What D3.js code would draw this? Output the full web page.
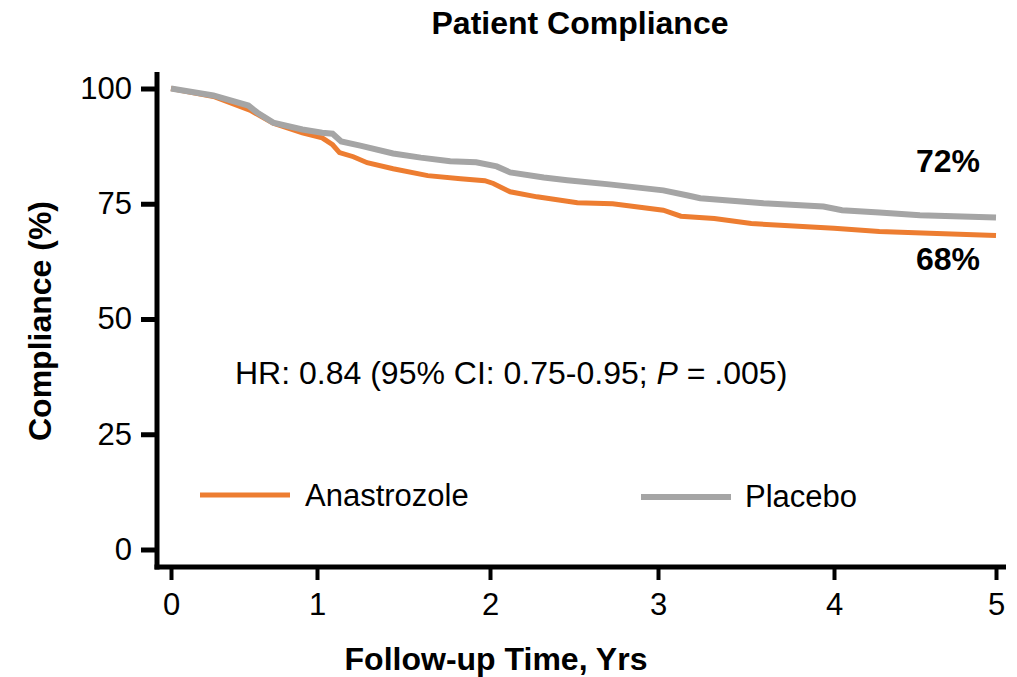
<!DOCTYPE html>
<html>
<head>
<meta charset="utf-8">
<style>
  body { margin: 0; background: #fff; }
  text { font-family: "Liberation Sans", Arial, sans-serif; fill: #000; }
</style>
</head>
<body>
<svg width="1017" height="677"></svg>
<script src="https://d3js.org/d3.v7.min.js"></script>
<script>

// follow-up time (years) and compliance (%)
var anastrozoleT = [0, 0.3, 0.54, 0.70, 0.90, 1.03, 1.09, 1.13, 1.21, 1.29, 1.44, 1.64, 1.83, 1.97, 2.02, 2.12, 2.28, 2.52, 2.73, 3.03, 3.13, 3.32, 3.53, 3.72, 4.00, 4.28, 4.59, 5.0];
var anastrozoleV = [100, 98.2, 95.3, 92.5, 90.4, 89.3, 87.8, 86.1, 85.2, 83.9, 82.6, 81.1, 80.4, 80.0, 79.4, 77.6, 76.5, 75.2, 75.0, 73.6, 72.3, 71.8, 70.7, 70.3, 69.7, 69.0, 68.6, 68.1];

var placeboT = [0, 0.29, 0.53, 0.59, 0.70, 0.90, 1.03, 1.09, 1.14, 1.25, 1.44, 1.60, 1.77, 1.92, 2.04, 2.12, 2.32, 2.46, 2.71, 3.03, 3.17, 3.24, 3.60, 3.94, 4.05, 4.28, 4.53, 5.0];
var placeboV = [100, 98.5, 96.3, 94.8, 92.6, 91.1, 90.4, 90.2, 88.5, 87.6, 85.9, 85.0, 84.2, 84.0, 83.1, 81.8, 80.7, 80.1, 79.2, 77.9, 76.8, 76.2, 75.1, 74.4, 73.6, 73.1, 72.5, 72.0];

var xTicks = [0, 1, 2, 3, 4, 5];
var yTicks = [0, 25, 50, 75, 100];

var svg = d3.select("svg");

// the original x axis is not evenly spaced, so use a polylinear scale
var x = d3.scaleLinear()
    .domain(xTicks)
    .range([171, 317, 490, 658, 834, 996]);

var y = d3.scaleLinear()
    .domain([0, 100])
    .range([549.5, 88.5]);

var orange = "#ed7d31",
    grey = "#a5a5a5";

// axes
var yAxis = svg.append("g")
    .attr("transform", "translate(157,0)")
    .call(d3.axisLeft(y).tickValues(yTicks).tickFormat(d3.format("d"))
      .tickSize(16).tickPadding(9));

var xAxis = svg.append("g")
    .attr("transform", "translate(0,567)")
    .call(d3.axisBottom(x).tickValues(xTicks).tickFormat(d3.format("d"))
      .tickSize(13).tickPadding(13));

yAxis.select(".domain").remove();
xAxis.select(".domain").remove();

svg.append("line")
    .attr("x1", 157).attr("x2", 157)
    .attr("y1", 72).attr("y2", 569.5)
    .attr("stroke", "#000").attr("stroke-width", 5);

svg.append("line")
    .attr("x1", 154.5).attr("x2", 1006)
    .attr("y1", 567).attr("y2", 567)
    .attr("stroke", "#000").attr("stroke-width", 5);

yAxis.selectAll(".tick line").attr("stroke-width", 5);
xAxis.selectAll(".tick line").attr("stroke-width", 4);
svg.selectAll(".tick text")
    .style("font-family", "Liberation Sans, Arial, sans-serif")
    .style("font-size", "31px");

// curves
var line = d3.line()
    .x(function(d) { return x(d[0]); })
    .y(function(d) { return y(d[1]); });

svg.append("path")
    .datum(d3.zip(anastrozoleT, anastrozoleV))
    .attr("fill", "none")
    .attr("stroke", orange)
    .attr("stroke-width", 5)
    .attr("d", line);

svg.append("path")
    .datum(d3.zip(placeboT, placeboV))
    .attr("fill", "none")
    .attr("stroke", grey)
    .attr("stroke-width", 6)
    .attr("d", line);

// titles
svg.append("text")
    .attr("x", 580).attr("y", 34)
    .attr("text-anchor", "middle")
    .style("font-size", "32px").style("font-weight", "bold")
    .text("Patient Compliance");

svg.append("text")
    .attr("transform", "translate(51,321) rotate(-90)")
    .attr("text-anchor", "middle")
    .style("font-size", "32px").style("font-weight", "bold")
    .text("Compliance (%)");

svg.append("text")
    .attr("x", 496).attr("y", 670)
    .attr("text-anchor", "middle")
    .style("font-size", "32px").style("font-weight", "bold")
    .text("Follow-up Time, Yrs");

// end labels
svg.append("text")
    .attr("x", 948).attr("y", 172)
    .attr("text-anchor", "middle")
    .style("font-size", "32px").style("font-weight", "bold")
    .text("72%");

svg.append("text")
    .attr("x", 948).attr("y", 270)
    .attr("text-anchor", "middle")
    .style("font-size", "32px").style("font-weight", "bold")
    .text("68%");

// hazard ratio
var hr = svg.append("text")
    .attr("x", 235).attr("y", 384)
    .style("font-size", "32px");
hr.append("tspan").text("HR: 0.84 (95% CI: 0.75-0.95; ");
hr.append("tspan").style("font-style", "italic").text("P");
hr.append("tspan").text(" = .005)");

// legend
var legend = [
  {name: "Anastrozole", color: orange, w: 5, x: 200, y: 495, ty: 11},
  {name: "Placebo", color: grey, w: 6, x: 641, y: 497, ty: 10}
];

var lg = svg.selectAll(".legend")
    .data(legend)
  .enter().append("g")
    .attr("class", "legend")
    .attr("transform", function(d) { return "translate(" + d.x + "," + d.y + ")"; });

lg.append("line")
    .attr("x1", 0).attr("x2", 90)
    .attr("stroke", function(d) { return d.color; })
    .attr("stroke-width", function(d) { return d.w; });

lg.append("text")
    .attr("x", function(d) { return d.name === "Placebo" ? 104 : 105; })
    .attr("y", function(d) { return d.ty; })
    .style("font-size", "31px")
    .text(function(d) { return d.name; });

</script>
</body>
</html>
